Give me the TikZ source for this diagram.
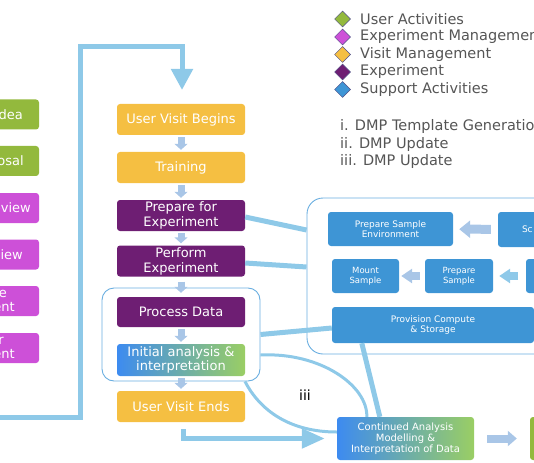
\documentclass[tikz,border=0pt]{standalone}
\usepackage{fontspec}
\setmainfont{DejaVu Sans}
\usetikzlibrary{arrows.meta,shapes.geometric}
\definecolor{visitc}{RGB}{245,191,66}
\definecolor{expc}{RGB}{110,30,115}
\definecolor{mgmtc}{RGB}{205,80,216}
\definecolor{userc}{RGB}{147,185,61}
\definecolor{supc}{RGB}{62,149,213}
\definecolor{connc}{RGB}{142,201,232}
\definecolor{palec}{RGB}{169,198,231}
\definecolor{cyanc}{RGB}{143,201,233}
\definecolor{framec}{RGB}{106,174,224}
\definecolor{gradl}{RGB}{61,139,240}
\definecolor{gradm}{RGB}{142,214,247}
\definecolor{gradr}{RGB}{154,206,100}
\definecolor{greytext}{RGB}{85,85,85}
\begin{document}
\begin{tikzpicture}[x=1pt,y=-1pt,
  box/.style={rounded corners=3pt, minimum width=128pt, minimum height=31pt, inner sep=0pt, text=white, align=center, font=\fontsize{13}{15}\selectfont},
  visit/.style={box, fill=visitc},
  exper/.style={box, fill=expc},
  gradbox/.style={box, left color=gradl, middle color=gradm, right color=gradr},
  lbox/.style={rounded corners=3pt, minimum width=100pt, minimum height=30pt, inner sep=0pt},
  ltext/.style={text=white, inner sep=0pt, anchor=east, align=right, font=\fontsize{13}{13.5}\selectfont},
  sbox/.style={rounded corners=3pt, fill=supc, inner sep=0pt, text=white, align=center, font=\fontsize{9}{10.5}\selectfont},
  frame/.style={draw=framec, line width=0.9pt, rounded corners=12pt, inner sep=0pt},
  conn/.style={draw=connc, line width=5pt},
  thinconn/.style={draw=connc, line width=3pt},
  downarrow/.style={draw=palec, line width=7pt, -{Triangle[width=13pt,length=6pt]}, shorten <=2pt, shorten >=2pt},
  sidearrow/.style={draw=palec, line width=9pt, -{Triangle[width=17pt,length=11pt]}},
  legdia/.style={diamond, minimum size=16pt, inner sep=0pt, draw=black!45!blue!40!gray, line width=0.5pt},
  legtext/.style={anchor=west, inner sep=0pt, text=greytext, font=\fontsize{14.5}{16}\selectfont}
]
\useasboundingbox (0,0) rectangle (534,462);
\clip (0,0) rectangle (534,462);

% left column
\node[lbox, fill=userc] (l1) at (-11,114.5) {};
\node[lbox, fill=userc] (l2) at (-11,161) {};
\node[lbox, fill=mgmtc] (l3) at (-11,208) {};
\node[lbox, fill=mgmtc] (l4) at (-11,254.5) {};
\node[lbox, fill=mgmtc] (l5) at (-11,301) {};
\node[lbox, fill=mgmtc] (l6) at (-11,348) {};
\node[ltext] (t1) at (23,114.5) {dea};
\node[ltext] (t2) at (24,161) {osal};
\node[ltext] (t3) at (31,208) {eview};
\node[ltext] (t4) at (23,254.5) {view};
\node[ltext] (t5) at (15,301) {e\hspace*{8pt}\\ent};
\node[ltext] (t6) at (15,348) {r\hspace*{11pt}\\ent};

% containers
\node[frame, minimum width=158pt, minimum height=93pt] (pc) at (181,334.5) {};
\node[frame, rounded corners=16pt, minimum width=280pt, minimum height=156pt] (sup) at (447,276) {};

% center column
\node[visit] (ub) at (181,119.5) {User Visit Begins};
\node[visit] (tr) at (181,167.5) {Training};
\node[exper] (pe) at (181,215.5) {Prepare for\\Experiment};
\node[exper] (pf) at (181,261) {Perform\\Experiment};
\node[exper, minimum height=30pt] (pd) at (181,312) {Process Data};
\node[gradbox, minimum height=32pt, font=\fontsize{13}{14}\selectfont] (ia) at (181,360) {Initial analysis \&\\interpretation};
\node[visit] (ue) at (181,406.5) {User Visit Ends};

\draw[downarrow] (ub) -- (tr);
\draw[downarrow] (tr) -- (pe);
\draw[downarrow] (pe) -- (pf);
\draw[downarrow, shorten <=5pt, shorten >=4pt] (pf) -- (pd);
\draw[downarrow] (pd) -- (ia);
\draw[downarrow] (ia) -- (ue);

% support activities
\node[sbox, minimum width=125pt, minimum height=34pt] (pse) at (390.5,229) {Prepare Sample\\Environment};
\node[sbox, minimum height=35pt, text width=101pt, inner xsep=24pt, align=left] (sch) at (572.5,229.5) {Sc};
\node[sbox, minimum width=67pt, minimum height=34pt, font=\fontsize{8.5}{10}\selectfont] (ms) at (365.5,276) {Mount\\Sample};
\node[sbox, minimum width=68pt, minimum height=34pt, font=\fontsize{8.5}{10}\selectfont] (ps) at (459,276) {Prepare\\Sample};
\node[sbox, minimum width=68pt, minimum height=34pt] (ux) at (560,276) {};
\node[sbox, minimum width=202pt, minimum height=36pt, font=\fontsize{9}{10}\selectfont] (pcs) at (433,325) {Provision Compute\\\& Storage};

\draw[sidearrow, shorten <=7pt, shorten >=6pt] (sch) -- (pse);
\draw[sidearrow, line width=8pt, -{Triangle[width=14pt,length=11pt]}, shorten <=5pt, shorten >=2pt] (ps) -- (ms);
\draw[sidearrow, draw=cyanc, line width=8pt, -{Triangle[width=14pt,length=11pt]}, shorten <=8pt, shorten >=6pt] (ux) -- (ps);

% continued analysis and green box
\node[gradbox, minimum width=137pt, minimum height=43pt, font=\fontsize{10}{11}\selectfont] (cont) at (405.5,438.5) {Continued Analysis\\Modelling \&\\Interpretation of Data};
\node[lbox, fill=userc, minimum width=136pt, minimum height=43pt] (gb) at (598,438.5) {};
\draw[sidearrow, line width=8pt, -{Triangle[width=15pt,length=9pt]}, shorten <=13pt, shorten >=13pt] (cont) -- (gb);

% connectors
\coordinate (lstart) at (-5,417);
\draw[conn, -{Triangle[width=21pt,length=21pt]}, shorten >=14pt] (lstart) -- (80,417) -- (80,47) -- (182,47) -- (182,104);
\draw[conn, line width=5pt] ([yshift=-1.5pt]pe.east) -- ([yshift=46pt]sup.west);
\draw[conn, line width=5pt] ([yshift=-2pt]pf.east) -- ([yshift=9pt]sup.west);
\draw[conn, line width=5pt] (pc.east) -- ([yshift=-3pt]pcs.west);
\draw[thinconn] ([yshift=-20.5pt]pc.east) .. controls +(60,-3) and +(1,-31) .. ([xshift=30pt]cont.north west);
\draw[thinconn] ([xshift=64pt]pc.south) .. controls +(15,29) and +(-47,0) .. ([yshift=6.5pt]cont.west);
\draw[conn] ([xshift=30pt]pcs.south west) -- ([xshift=43pt]cont.north west);
\draw[conn, -{Triangle[width=19pt,length=23pt]}, shorten <=7pt, shorten >=12pt] ([xshift=2pt]ue.south) |- (cont.west);
\node[inner sep=0pt, font=\fontsize{14}{16}\selectfont] (iii) at (305,395) {iii};

% legend
\node[legdia, fill=userc] (d1) at (342.5,19) {};
\node[legdia, fill=mgmtc] (d2) at (342.5,37) {};
\node[legdia, fill=visitc] (d3) at (342.5,54.5) {};
\node[legdia, fill=expc] (d4) at (342.5,72) {};
\node[legdia, fill=supc] (d5) at (342.5,89.5) {};
\node[legtext] (g1) at (360,19) {User Activities};
\node[legtext] (g2) at (360,37) {Experiment Management};
\node[legtext] (g3) at (360,54.5) {Visit Management};
\node[legtext] (g4) at (360,72) {Experiment};
\node[legtext] (g5) at (360,89.5) {Support Activities};
\node[legtext] (m1) at (340,127) {i. DMP Template Generation};
\node[legtext] (m2) at (340,144.5) {ii. DMP Update};
\node[legtext] (m3) at (340,162) {iii. DMP Update};
\end{tikzpicture}
\end{document}
